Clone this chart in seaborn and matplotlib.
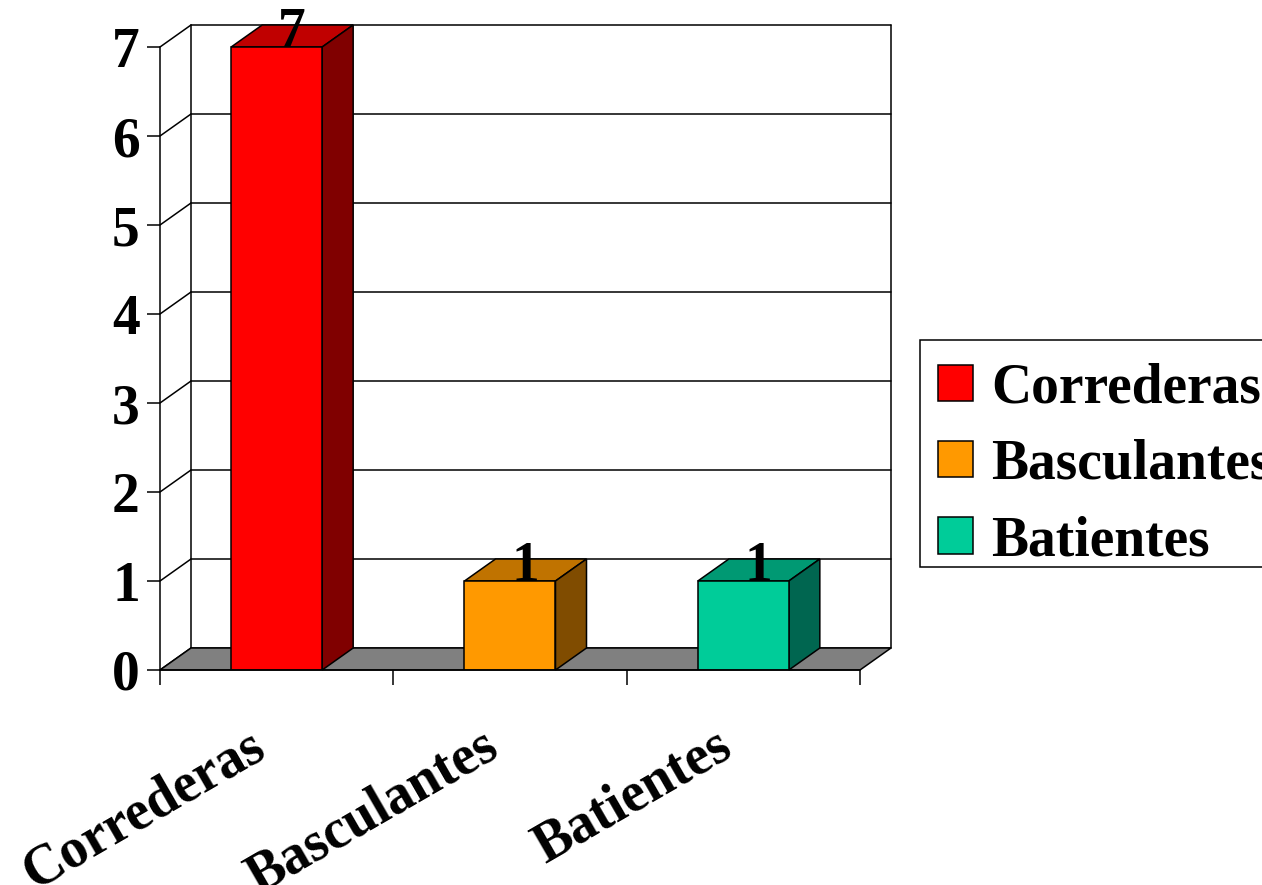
import matplotlib
matplotlib.use("Agg")
import matplotlib.pyplot as plt
import matplotlib.transforms as mtransforms
from matplotlib.patches import Polygon, Patch, Rectangle
import seaborn as sns
import pandas as pd

categories = ["Correderas", "Basculantes", "Batientes"]
values = [7, 1, 1]
front_colors = ["#FF0000", "#FF9900", "#00CC99"]
top_colors = ["#C00000", "#C07300", "#009973"]
side_colors = ["#800000", "#804C00", "#006650"]
yticks = [0, 1, 2, 3, 4, 5, 6, 7]

sns.set_theme(style="white")
plt.rcParams["font.family"] = ["Liberation Serif", "DejaVu Serif"]
plt.rcParams["font.weight"] = "bold"
plt.rcParams["text.color"] = "black"
plt.rcParams["xtick.color"] = "black"
plt.rcParams["ytick.color"] = "black"
plt.rcParams["xtick.labelcolor"] = "black"
plt.rcParams["ytick.labelcolor"] = "black"

FS = 40
LW = 1.1
W, H = 1262, 885
fig = plt.figure(figsize=(W / 100, H / 100), dpi=100)
ax = fig.add_axes([160 / W, (H - 670) / H, (891 - 160) / W, (670 - 25) / H])

df = pd.DataFrame({"cat": categories, "val": values})
sns.barplot(data=df, x="cat", y="val", hue="cat", palette=front_colors,
            saturation=1, width=0.39, dodge=False, legend=False, ax=ax,
            edgecolor="black", linewidth=LW, zorder=5)

dx = 31 / 233.3
dy = 22 / 89.0
ax.set_xlim(-0.5, 2.5 + dx)
ax.set_ylim(0, 7 + dy)

for s in ["top", "right", "bottom", "left"]:
    ax.spines[s].set_visible(False)

kw = dict(color="black", lw=LW, clip_on=False, zorder=1)
# back wall
for v in yticks:
    ax.plot([-0.5 + dx, 2.5 + dx], [v + dy, v + dy], **kw)
    ax.plot([-0.5, -0.5 + dx], [v, v + dy], **kw)
ax.plot([-0.5 + dx, -0.5 + dx], [dy, 7 + dy], **kw)
ax.plot([2.5 + dx, 2.5 + dx], [dy, 7 + dy], **kw)
# floor
floor = Polygon([(-0.5, 0), (2.5, 0), (2.5 + dx, dy), (-0.5 + dx, dy)],
                closed=True, facecolor="#808080", edgecolor="black", lw=LW,
                zorder=2, clip_on=False)
ax.add_patch(floor)
# front axes lines
ax.plot([-0.5, -0.5], [0, 7], color="black", lw=LW, zorder=6, clip_on=False)
ax.plot([-0.5, 2.5], [0, 0], color="black", lw=LW, zorder=6, clip_on=False)

# 3D bar faces
bars = [p for c in ax.containers for p in c]
for i, p in enumerate(bars):
    x0, w, h = p.get_x(), p.get_width(), p.get_height()
    top = Polygon([(x0, h), (x0 + w, h), (x0 + w + dx, h + dy), (x0 + dx, h + dy)],
                  closed=True, facecolor=top_colors[i], edgecolor="black",
                  lw=LW, zorder=4, clip_on=False)
    side = Polygon([(x0 + w, 0), (x0 + w + dx, dy), (x0 + w + dx, h + dy), (x0 + w, h)],
                   closed=True, facecolor=side_colors[i], edgecolor="black",
                   lw=LW, zorder=4, clip_on=False)
    ax.add_patch(top)
    ax.add_patch(side)
    ax.text(x0 + w / 2 + dx / 2, h, f"{values[i]}", ha="center", va="baseline",
            fontsize=FS, fontweight="bold", color="black", zorder=8, clip_on=False)

# ticks
ax.set_yticks(yticks)
ax.set_yticklabels([str(v) for v in yticks], fontsize=FS, fontweight="bold", color="black")
ax.tick_params(axis="y", which="major", left=True, length=9.5, width=LW,
               direction="out", color="black", pad=5)
ax.set_xticks([0, 1, 2])
ax.set_xticklabels(categories, fontsize=FS, fontweight="bold", rotation=30,
                   ha="right", va="center", rotation_mode="anchor", color="black")
ax.set_xticks([-0.5, 0.5, 1.5, 2.5], minor=True)
ax.tick_params(axis="x", which="major", bottom=True, length=0, pad=52)
ax.tick_params(axis="x", which="minor", bottom=True, length=11, width=LW,
               direction="out", color="black")
offset = mtransforms.ScaledTranslation(-16 / 100, 0, fig.dpi_scale_trans)
for lab in ax.get_xticklabels():
    lab.set_transform(lab.get_transform() + offset)
ax.set_xlabel("")
ax.set_ylabel("")

# legend frame
frame = Rectangle((920 / W, 1 - 567 / H), (W + 20 - 920) / W, (567 - 340) / H,
                  transform=fig.transFigure, facecolor="white", edgecolor="black",
                  lw=LW, zorder=0)
fig.add_artist(frame)
handles = [Patch(facecolor=c, edgecolor="black", lw=LW) for c in front_colors]
leg = ax.legend(handles, categories, loc="upper left",
                bbox_to_anchor=(926 / W, 1 - 350 / H), bbox_transform=fig.transFigure,
                borderaxespad=0, prop={"weight": "bold", "size": FS},
                handlelength=0.63, handleheight=0.63, handletextpad=0.32,
                labelspacing=0.44, borderpad=0.22, frameon=False)
for t in leg.get_texts():
    t.set_color("black")

fig.savefig("out.png", dpi=100)
